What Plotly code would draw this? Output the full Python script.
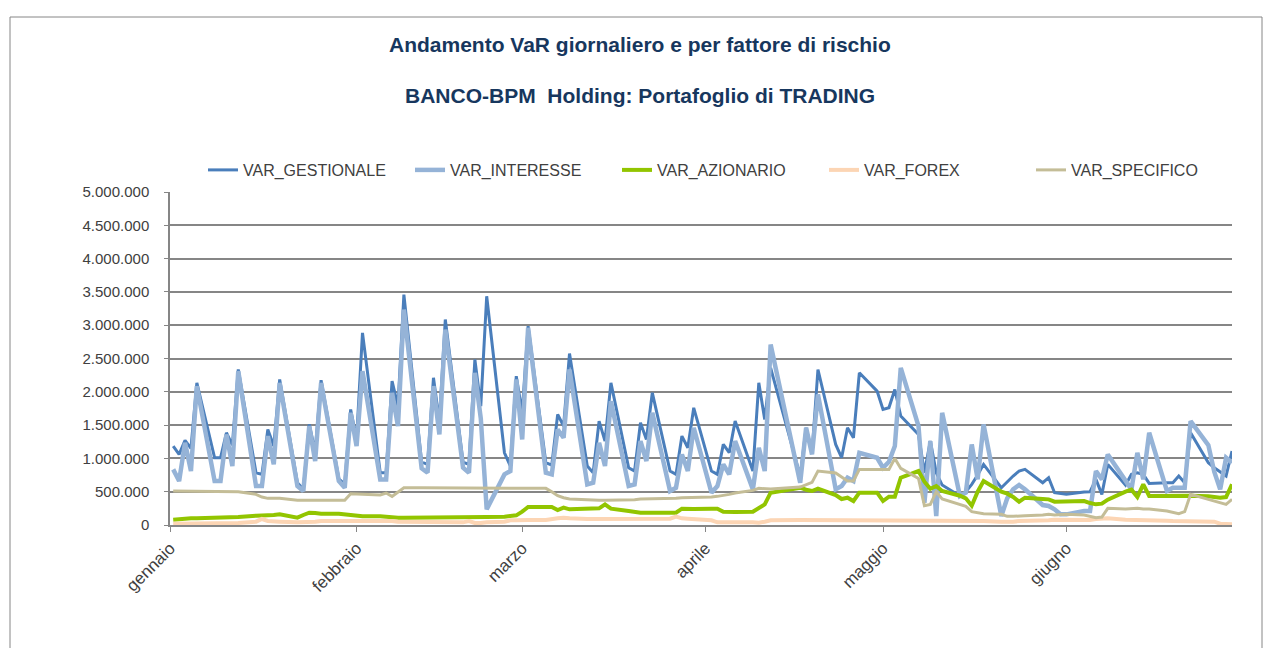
import pandas as pd
import plotly.graph_objects as go

# Trading days (business days 2017, market holidays removed)
holidays = ["2017-04-14", "2017-04-17"]
dates = [d for d in pd.bdate_range("2017-01-02", "2017-06-30") if d.strftime("%Y-%m-%d") not in holidays]

# Values in millions of EUR, week by week
var_gestionale = [
    1.185, 1.06, 1.27, 1.15, 2.135,
    1.01, 1.01, 1.385, 1.2, 2.335,
    0.785, 0.76, 1.435, 1.185, 2.185,
    0.635, 0.535, 1.51, 1.1, 2.175,
    0.695, 0.61, 1.735, 1.285, 2.885,
    0.785, 0.785, 2.16, 1.785, 3.46,
    0.945, 0.91, 2.21, 1.55, 3.085,
    0.945, 0.91, 2.485, 1.785, 3.435,
    1.085, 0.885, 2.235, 1.685, 2.985,
    0.935, 0.9, 1.66, 1.485, 2.575,
    0.885, 0.785, 1.56, 1.26, 2.135,
    0.86, 0.81, 1.535, 1.285, 1.985,
    0.81, 0.76, 1.335, 1.16, 1.76,
    0.81, 0.76, 1.21, 1.085, 1.56,
    0.81, 2.135, 1.585, 2.36,
    0.735, 1.46, 1.085, 2.335,
    1.21, 1.01, 1.46, 1.31, 2.285,
    2.01, 1.735, 1.76, 2.035, 1.635,
    1.36, 0.785, 1.26, 0.785, 0.6,
    0.435, 0.5, 0.61, 0.75, 0.91,
    0.56, 0.65, 0.735, 0.81, 0.835,
    0.635, 0.71, 0.485, 0.47, 0.46,
    0.495, 0.5, 0.685, 0.46, 0.91,
    0.6, 0.76, 0.785, 0.76, 0.625,
    0.635, 0.635, 0.735, 0.635, 1.385,
    0.935, 0.86, 0.8, 0.735, 1.11,
]
var_interesse = [
    0.835, 0.66, 1.235, 0.81, 2.085,
    0.66, 0.66, 1.36, 0.885, 2.31,
    0.585, 0.585, 1.335, 0.91, 2.135,
    0.585, 0.51, 1.485, 0.96, 2.135,
    0.66, 0.56, 1.685, 1.185, 2.31,
    0.685, 0.685, 1.985, 1.485, 3.235,
    0.85, 0.785, 2.085, 1.36, 2.935,
    0.86, 0.785, 2.285, 1.6, 0.235,
    0.76, 0.81, 2.185, 1.285, 2.96,
    0.785, 0.76, 1.435, 1.31, 2.335,
    0.61, 0.635, 1.235, 0.885, 1.86,
    0.585, 0.61, 1.26, 0.96, 1.685,
    0.51, 0.56, 1.06, 0.81, 1.46,
    0.485, 0.585, 0.91, 0.76, 1.26,
    0.535, 1.16, 0.81, 2.71,
    0.635, 1.46, 1.06, 1.96,
    0.535, 0.585, 0.71, 0.66, 1.085,
    1.01, 0.86, 0.95, 1.185, 2.36,
    1.485, 0.335, 1.26, 0.135, 1.685,
    0.435, 0.485, 1.21, 0.685, 1.51,
    0.135, 0.4, 0.535, 0.6, 0.535,
    0.3, 0.285, 0.235, 0.16, 0.16,
    0.21, 0.21, 0.81, 0.685, 1.06,
    0.685, 0.535, 1.085, 0.685, 1.385,
    0.51, 0.56, 0.56, 0.56, 1.56,
    1.2, 0.8, 0.535, 1.01, 0.935,
]
var_azionario = [
    0.08, 0.09, 0.095, 0.1, 0.1,
    0.105, 0.11, 0.11, 0.115, 0.12,
    0.14, 0.14, 0.145, 0.15, 0.16,
    0.11, 0.15, 0.185, 0.18, 0.17,
    0.17, 0.16, 0.15, 0.14, 0.13,
    0.13, 0.12, 0.115, 0.11, 0.11,
    0.11, 0.11, 0.105, 0.105, 0.105,
    0.105, 0.11, 0.11, 0.115, 0.12,
    0.125, 0.13, 0.145, 0.2, 0.27,
    0.27, 0.27, 0.225, 0.26, 0.235,
    0.24, 0.245, 0.25, 0.31, 0.245,
    0.21, 0.19, 0.185, 0.185, 0.185,
    0.185, 0.185, 0.245, 0.235, 0.24,
    0.245, 0.245, 0.2, 0.195, 0.195,
    0.2, 0.25, 0.31, 0.485,
    0.56, 0.53, 0.51, 0.545,
    0.45, 0.39, 0.41, 0.36, 0.485,
    0.485, 0.36, 0.425, 0.425, 0.71,
    0.81, 0.65, 0.545, 0.585, 0.51,
    0.44, 0.4, 0.29, 0.5, 0.66,
    0.5, 0.47, 0.42, 0.35, 0.41,
    0.39, 0.385, 0.35, 0.35, 0.35,
    0.36, 0.33, 0.31, 0.32, 0.38,
    0.5, 0.53, 0.42, 0.61, 0.435,
    0.44, 0.44, 0.445, 0.445, 0.44,
    0.43, 0.42, 0.41, 0.42, 0.61,
]
var_forex = [
    0.02, 0.02, 0.02, 0.025, 0.025,
    0.03, 0.03, 0.03, 0.03, 0.03,
    0.05, 0.09, 0.06, 0.05, 0.05,
    0.04, 0.04, 0.05, 0.05, 0.06,
    0.06, 0.07, 0.07, 0.07, 0.07,
    0.06, 0.06, 0.06, 0.05, 0.05,
    0.04, 0.035, 0.04, 0.04, 0.04,
    0.04, 0.06, 0.03, 0.03, 0.04,
    0.05, 0.07, 0.07, 0.075, 0.075,
    0.075, 0.08, 0.1, 0.11, 0.1,
    0.09, 0.09, 0.085, 0.085, 0.085,
    0.085, 0.085, 0.09, 0.09, 0.09,
    0.095, 0.125, 0.1, 0.095, 0.09,
    0.07, 0.04, 0.035, 0.03, 0.04,
    0.04, 0.035, 0.05, 0.07,
    0.075, 0.075, 0.075, 0.075,
    0.07, 0.07, 0.07, 0.07, 0.07,
    0.06, 0.06, 0.06, 0.06, 0.06,
    0.06, 0.06, 0.065, 0.07, 0.07,
    0.07, 0.065, 0.06, 0.06, 0.06,
    0.05, 0.045, 0.05, 0.06, 0.06,
    0.065, 0.07, 0.08, 0.08, 0.07,
    0.07, 0.075, 0.09, 0.1, 0.1,
    0.08, 0.08, 0.075, 0.07, 0.07,
    0.065, 0.06, 0.06, 0.06, 0.06,
    0.06, 0.05, 0.02, 0.01, 0.01,
]
var_specifico = [
    0.51, 0.51, 0.51, 0.51, 0.5,
    0.5, 0.51, 0.51, 0.51, 0.5,
    0.46, 0.42, 0.4, 0.4, 0.4,
    0.37, 0.37, 0.37, 0.38, 0.38,
    0.37, 0.37, 0.47, 0.46, 0.46,
    0.45, 0.48, 0.43, 0.5, 0.56,
    0.56, 0.56, 0.56, 0.56, 0.56,
    0.56, 0.56, 0.56, 0.56, 0.56,
    0.56, 0.56, 0.55, 0.56, 0.56,
    0.55, 0.5, 0.44, 0.41, 0.39,
    0.38, 0.37, 0.37, 0.37, 0.37,
    0.38, 0.38, 0.39, 0.39, 0.39,
    0.4, 0.4, 0.41, 0.41, 0.41,
    0.42, 0.43, 0.44, 0.46, 0.48,
    0.52, 0.55, 0.54, 0.54,
    0.57, 0.6, 0.64, 0.81,
    0.78, 0.72, 0.66, 0.66, 0.835,
    0.835, 0.835, 0.835, 1.0, 0.85,
    0.7, 0.29, 0.31, 0.5, 0.39,
    0.3, 0.28, 0.2, 0.18, 0.17,
    0.16, 0.13, 0.13, 0.14, 0.14,
    0.15, 0.16, 0.15, 0.16, 0.16,
    0.15, 0.13, 0.11, 0.12, 0.25,
    0.24, 0.25, 0.25, 0.24, 0.24,
    0.21, 0.19, 0.17, 0.2, 0.46,
    0.385, 0.36, 0.345, 0.31, 0.385,
]

series_names = ["VAR_GESTIONALE", "VAR_INTERESSE", "VAR_AZIONARIO", "VAR_FOREX", "VAR_SPECIFICO"]
series_values = [var_gestionale, var_interesse, var_azionario, var_forex, var_specifico]
series_colors = ["#4A7EBB", "#95B3D7", "#92C500", "#FCD5B4", "#C4BD97"]
series_widths = [3, 4.5, 4, 4, 3]

month_ticks = ["2017-01-01 11:30", "2017-02-02", "2017-03-02", "2017-04-02", "2017-05-02", "2017-06-02"]
month_labels = ["gennaio", "febbraio", "marzo", "aprile", "maggio", "giugno"]
y_ticks = [0, 500000, 1000000, 1500000, 2000000, 2500000, 3000000, 3500000, 4000000, 4500000, 5000000]

# The page body adds an 8px margin: figure pixel = reference pixel - 8
W, H = 1264, 640
L, T, PW, PH = 162, 184, 1062, 333
R, B = W - L - PW, H - T - PH


def px_x(px):
    return (px - 8 - L) / PW


def px_y(py):
    return (T + PH - (py - 8)) / PH


fig = go.Figure()
for name, vals, col, w in zip(series_names, series_values, series_colors, series_widths):
    assert len(vals) == len(dates), (name, len(vals), len(dates))
    fig.add_trace(go.Scatter(
        x=dates, y=[v * 1e6 for v in vals], name=name, mode="lines",
        line=dict(color=col, width=w),
    ))

fig.update_layout(
    width=W, height=H,
    margin=dict(l=L, r=R, t=T, b=B),
    paper_bgcolor="white", plot_bgcolor="white",
    separators=",.",
    font=dict(family="Liberation Sans, Arial, sans-serif", color="#404040"),
    showlegend=True,
    legend=dict(
        orientation="h", x=px_x(203), y=px_y(170), xanchor="left", yanchor="middle",
        font=dict(size=16, color="#404040"),
        entrywidth=162, entrywidthmode="pixels",
        bgcolor="rgba(0,0,0,0)",
    ),
    xaxis=dict(
        type="date", range=["2017-01-01 11:00", "2017-06-30 00:00"],
        tickvals=month_ticks, ticktext=month_labels, tickangle=-45,
        tickfont=dict(size=17, color="#404040"),
        showgrid=False, showline=True, linecolor="#868686", linewidth=1.5,
        ticks="outside", ticklen=5, tickcolor="#868686",
        zeroline=False,
    ),
    yaxis=dict(
        range=[0, 5000000], tickvals=y_ticks, tickformat=",d",
        tickfont=dict(size=15, color="#404040"),
        showgrid=True, gridcolor="#868686", gridwidth=2,
        showline=True, linecolor="#868686", linewidth=1.5,
        ticks="outside", ticklen=4, tickcolor="#868686",
        ticklabelstandoff=12,
        zeroline=False,
    ),
    annotations=[
        dict(text="<b>Andamento VaR giornaliero e per fattore di rischio</b>",
             x=px_x(640), y=px_y(44), xref="paper", yref="paper", showarrow=False,
             xanchor="center", yanchor="middle",
             font=dict(size=21, color="#17375E", family="Liberation Sans, Arial, sans-serif")),
        dict(text="<b>BANCO-BPM  Holding: Portafoglio di TRADING</b>",
             x=px_x(640), y=px_y(95), xref="paper", yref="paper", showarrow=False,
             xanchor="center", yanchor="middle",
             font=dict(size=21, color="#17375E", family="Liberation Sans, Arial, sans-serif")),
    ],
)

fig.add_shape(type="rect", xref="paper", yref="paper",
              x0=px_x(10), x1=px_x(1262), y0=px_y(670), y1=px_y(17),
              line=dict(color="#868686", width=1), layer="below")

fig.write_html("out.html")
